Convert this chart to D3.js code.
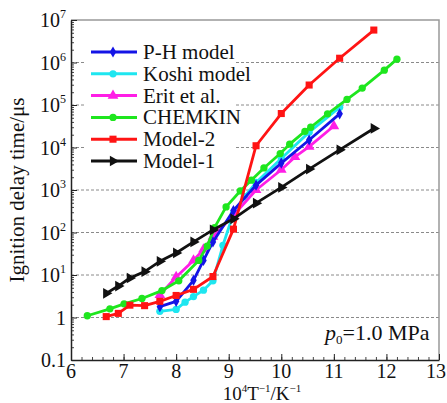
<!DOCTYPE html>
<html>
<head>
<meta charset="utf-8">
<script src="https://cdn.jsdelivr.net/npm/d3@7"></script>
<style>
  body { margin: 0; background: #fff; }
  svg { display: block; }
  text { font-family: "Liberation Serif", "DejaVu Serif", serif; fill: #111; }
</style>
</head>
<body>
<div id="chart"></div>
<script>
// values (x = 10^4/T, y = ignition delay in microseconds)
const xMain = [6.67, 6.9, 7.12, 7.4, 7.69, 8.0, 8.33, 8.7, 9.09, 9.52, 10.0, 10.53, 11.11, 11.76]
const model1 = [3.7, 5.5, 8.5, 12, 21, 33, 60, 115, 210, 490, 1150, 3100, 8800, 28000]
const model2 = [1.05, 1.25, 1.95, 1.9, 2.4, 3.3, 4.6, 9.2, 120, 11000, 63000, 295000, 1260000, 5800000]

const xPH = [7.69, 8.0, 8.33, 8.52, 8.7, 9.09, 9.52, 10.0, 10.53, 11.11]
const yPH = [1.8, 2.4, 7.5, 22, 60, 330, 1300, 4300, 15000, 62000]

const xKoshi = [7.69, 8.0, 8.17, 8.33, 8.52, 8.7, 8.89, 9.09, 9.3, 9.52, 10.0, 10.53, 11.11]
const yKoshi = [1.4, 1.55, 2.3, 3.1, 4.4, 7.3, 50, 280, 700, 1500, 5500, 23000, 88000]

const xErit = [7.69, 8.0, 8.33, 8.52, 8.7, 9.09, 9.52, 10.0, 10.26, 10.53, 11.0]
const yErit = [3.4, 9, 22, 40, 80, 255, 1000, 3000, 6000, 10500, 32000]

const xChem = [6.31, 6.74, 7.01, 7.35, 7.73, 8.05, 8.43, 8.59, 8.73, 8.95, 9.22, 9.43, 9.67, 9.98, 10.16, 10.45, 10.56, 10.88, 11.25, 11.54, 11.96, 12.2]
const yChem = [1.1, 1.6, 2.1, 2.8, 4.3, 7.3, 22, 48, 130, 400, 950, 1700, 3300, 7200, 12000, 24000, 30000, 62000, 135000, 250000, 660000, 1200000]

const series = [
  {name: 'Koshi model', xs: xKoshi, ys: yKoshi, color: '#1ee6f0', symbol: 'circle'},
  {name: 'Erit et al.', xs: xErit, ys: yErit, color: '#ff1ee6', symbol: 'triangle'},
  {name: 'P-H model', xs: xPH, ys: yPH, color: '#1414e6', symbol: 'diamond'},
  {name: 'CHEMKIN', xs: xChem, ys: yChem, color: '#1ee61e', symbol: 'circle'},
  {name: 'Model-2', xs: xMain, ys: model2, color: '#ff1414', symbol: 'square'},
  {name: 'Model-1', xs: xMain, ys: model1, color: '#111111', symbol: 'right'}
]
const legendOrder = ['P-H model', 'Koshi model', 'Erit et al.', 'CHEMKIN', 'Model-2', 'Model-1']

const xTicks = [6, 7, 8, 9, 10, 11, 12, 13]
const yTicks = [0.1, 1, 10, 100, 1e3, 1e4, 1e5, 1e6, 1e7]
const yExp = ['0.1', '1', '1', '2', '3', '4', '5', '6', '7']

const width = 447, height = 403
const margin = {top: 20, right: 8, bottom: 43, left: 71}

const svg = d3.select('#chart').append('svg')
.attr('width', width)
.attr('height', height)

const x = d3.scaleLinear().domain([6, 13]).range([margin.left, width - margin.right])
const y = d3.scaleLog().domain([0.1, 1e7]).range([height - margin.bottom, margin.top])

// dashed grid
svg.append('g')
.selectAll('line')
.data(yTicks.slice(1, -1))
.enter()
.append('line')
.attr('x1', x(6)).attr('x2', x(13))
.attr('y1', d => y(d)).attr('y2', d => y(d))
.attr('stroke', '#8a8a8a')
.attr('stroke-width', 1)
.attr('stroke-dasharray', '3,2')

// frame top / right
svg.append('path')
.attr('d', `M${x(6)},${y(1e7)}H${x(13)}V${y(0.1)}`)
.attr('fill', 'none')
.attr('stroke', '#999')
.attr('stroke-width', 1.5)

// minor ticks
let yMinor = []
for (let e = -1; e < 7; e++) for (let m = 2; m < 10; m++) yMinor.push(m * Math.pow(10, e))

svg.append('g')
.attr('transform', `translate(${x(6)},0)`)
.call(d3.axisLeft(y).tickValues(yMinor).tickSizeInner(-3).tickSizeOuter(0).tickFormat(''))
.call(g => g.select('.domain').remove())
.selectAll('line').attr('stroke', '#444')

svg.append('g')
.attr('transform', `translate(0,${y(0.1)})`)
.call(d3.axisBottom(x).tickValues(d3.range(6, 13.01, 0.2)).tickSizeInner(-3).tickSizeOuter(0).tickFormat(''))
.call(g => g.select('.domain').remove())
.selectAll('line').attr('stroke', '#444')

// major ticks + axis lines
svg.append('g')
.attr('transform', `translate(${x(6)},0)`)
.call(d3.axisLeft(y).tickValues(yTicks).tickSizeInner(-6).tickSizeOuter(0).tickFormat(''))
.call(g => g.select('.domain').attr('stroke', '#222').attr('stroke-width', 1.5))
.selectAll('line').attr('stroke', '#222')

svg.append('g')
.attr('transform', `translate(0,${y(0.1)})`)
.call(d3.axisBottom(x).tickValues(xTicks).tickSizeInner(-6).tickSizeOuter(0).tickFormat(''))
.call(g => g.select('.domain').attr('stroke', '#222').attr('stroke-width', 1.5))
.selectAll('line').attr('stroke', '#222')

// tick labels
svg.append('g')
.selectAll('text')
.data(xTicks)
.enter()
.append('text')
.attr('x', d => d === 13 ? width - 1 : x(d))
.attr('y', 378)
.attr('text-anchor', d => d === 13 ? 'end' : 'middle')
.attr('font-size', 20)
.text(d => d)

const yl = svg.append('g')
.selectAll('text')
.data(yTicks)
.enter()
.append('text')
.attr('x', 66)
.attr('y', d => y(d) + 7)
.attr('text-anchor', 'end')
.attr('font-size', 20)

yl.each(function(d, i) {
  const t = d3.select(this)
  if (d < 5) { t.text(yExp[i]); return }
  t.append('tspan').text('10')
  t.append('tspan').attr('font-size', 12).attr('dy', -9).text(yExp[i])
})

// axis titles
svg.append('text')
.attr('transform', `translate(24,${(y(0.1) + y(1e7)) / 2}) rotate(-90)`)
.attr('text-anchor', 'middle')
.attr('font-size', 21)
.text('Ignition delay time/μs')

const xt = svg.append('text')
.attr('x', 262)
.attr('y', 400)
.attr('text-anchor', 'middle')
.attr('font-size', 19)
xt.append('tspan').text('10')
xt.append('tspan').attr('font-size', 11).attr('dy', -8).text('4')
xt.append('tspan').attr('dy', 8).text('T')
xt.append('tspan').attr('font-size', 11).attr('dy', -8).text('−1')
xt.append('tspan').attr('dy', 8).text('/K')
xt.append('tspan').attr('font-size', 11).attr('dy', -8).text('−1')

// pressure label
const pl = svg.append('text')
.attr('x', 325)
.attr('y', 340)
.attr('font-size', 22)
pl.append('tspan').attr('font-style', 'italic').text('p')
pl.append('tspan').attr('font-size', 13).attr('dy', 4).text('0')
pl.append('tspan').attr('dy', -4).text('=1.0 MPa')

// markers
const symbolPath = (kind) => {
  if (kind === 'circle') return d3.symbol(d3.symbolCircle, 42)()
  if (kind === 'diamond') return d3.symbol(d3.symbolDiamond, 36)()
  if (kind === 'square') return d3.symbol(d3.symbolSquare, 50)()
  return d3.symbol(d3.symbolTriangle, 50)()
}

const line = d3.line()
.x(d => x(d[0]))
.y(d => y(d[1]))

const plot = svg.append('g')

series.forEach(s => {
  const pts = s.xs.map((v, i) => [v, s.ys[i]])

  plot.append('path')
  .datum(pts)
  .attr('d', line)
  .attr('fill', 'none')
  .attr('stroke', s.color)
  .attr('stroke-width', 2.8)
  .attr('stroke-linejoin', 'round')

  plot.selectAll(null)
  .data(pts)
  .enter()
  .append('path')
  .attr('d', symbolPath(s.symbol))
  .attr('transform', d => `translate(${x(d[0])},${y(d[1])})` + (s.symbol === 'right' ? ' rotate(90)' : ''))
  .attr('fill', s.color)
})

// legend
const legend = svg.append('g')

legend.append('rect')
.attr('x', 84).attr('y', 39)
.attr('width', 150).attr('height', 133)
.attr('fill', '#fff')

legendOrder.forEach((name, i) => {
  const s = series.find(f => f.name === name)
  const cy = 52 + i * 21.8

  legend.append('line')
  .attr('x1', 91).attr('x2', 137)
  .attr('y1', cy).attr('y2', cy)
  .attr('stroke', s.color)
  .attr('stroke-width', 3)

  legend.append('path')
  .attr('d', symbolPath(s.symbol))
  .attr('transform', `translate(113,${cy})` + (s.symbol === 'right' ? ' rotate(90)' : ''))
  .attr('fill', s.color)

  legend.append('text')
  .attr('x', 143)
  .attr('y', cy + 7)
  .attr('font-size', 21)
  .text(name)
})
</script>
</body>
</html>
